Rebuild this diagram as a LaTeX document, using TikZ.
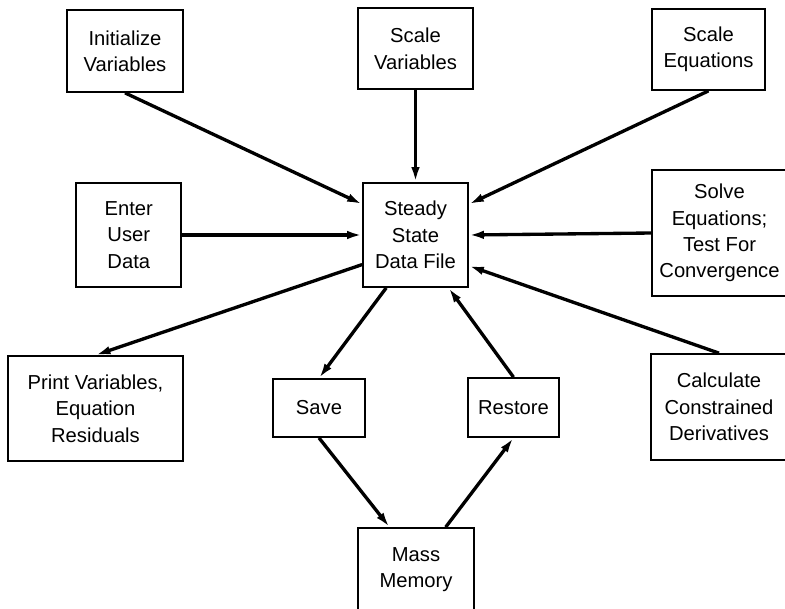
\documentclass[tikz,border=0pt]{standalone}
\usepackage{fontspec}
\setmainfont{Liberation Sans}
\usepackage{xcolor}
\usepackage{tikz}
\usetikzlibrary{arrows.meta,positioning}

\begin{document}
\begin{tikzpicture}[
    x=0.02cm, y=-0.02cm,
    box/.style={rectangle,draw,line width=1pt,align=center,inner sep=2pt,
                font=\fontsize{11.5}{15}\selectfont},
    arrow/.style={-{Latex[length=3mm,width=1.7mm]},line width=1.9pt}
]
\useasboundingbox (0,0) rectangle (785,609);
\node[box,minimum width=2.1cm,minimum height=2.08cm] (ssdf) at (415.5,235) {Steady\\State\\Data File};
\node[box,minimum width=2.3cm,minimum height=1.62cm,above=1.84cm of ssdf] (scalevar) {Scale\\Variables};
\node[box,minimum width=2.32cm,minimum height=1.64cm] (init) at (125,51) {Initialize\\Variables};
\node[box,minimum width=2.26cm,minimum height=1.62cm] (scaleeq) at (708.5,49.5) {Scale\\Equations};
\node[box,minimum width=2.1cm,minimum height=2.08cm,left=3.6cm of ssdf] (user) {Enter\\User\\Data};
\node[box,minimum width=2.7cm,minimum height=2.52cm] (solve) at (719.5,233) {Solve\\Equations;\\Test For\\Convergence};
\node[box,minimum width=3.5cm,minimum height=2.1cm] (print) at (95.5,408.5) {Print Variables,\\Equation\\Residuals};
\node[box,minimum width=1.84cm,minimum height=1.16cm] (save) at (319,408) {Save};
\node[box,minimum width=1.82cm,minimum height=1.18cm] (restore) at (513.5,407.5) {Restore};
\node[box,minimum width=2.72cm,minimum height=2.12cm] (calc) at (719,407) {Calculate\\Constrained\\Derivatives};
\node[box,minimum width=2.32cm,minimum height=1.66cm] (mass) at (416,569.5) {Mass\\Memory};
% into the data file
\draw[arrow] (init.south) -- (ssdf.150);
\draw[arrow] (scalevar) -- (ssdf);
\draw[arrow] (scaleeq.south) -- (ssdf.30);
\draw[arrow] (user) -- (ssdf);
\draw[arrow] (solve.west) -- (ssdf.east);
\draw[arrow] (calc.north) -- (ssdf.330);
\draw[arrow] (restore.north) -- (ssdf.302);
% out of the data file
\draw[arrow] (ssdf.209) -- (print.north);
\draw[arrow] (ssdf.241) -- (save.north);
% mass memory loop
\draw[arrow] (save.south) -- (mass.122);
\draw[arrow] (mass.55) -- (restore.south);
\end{tikzpicture}
\end{document}
